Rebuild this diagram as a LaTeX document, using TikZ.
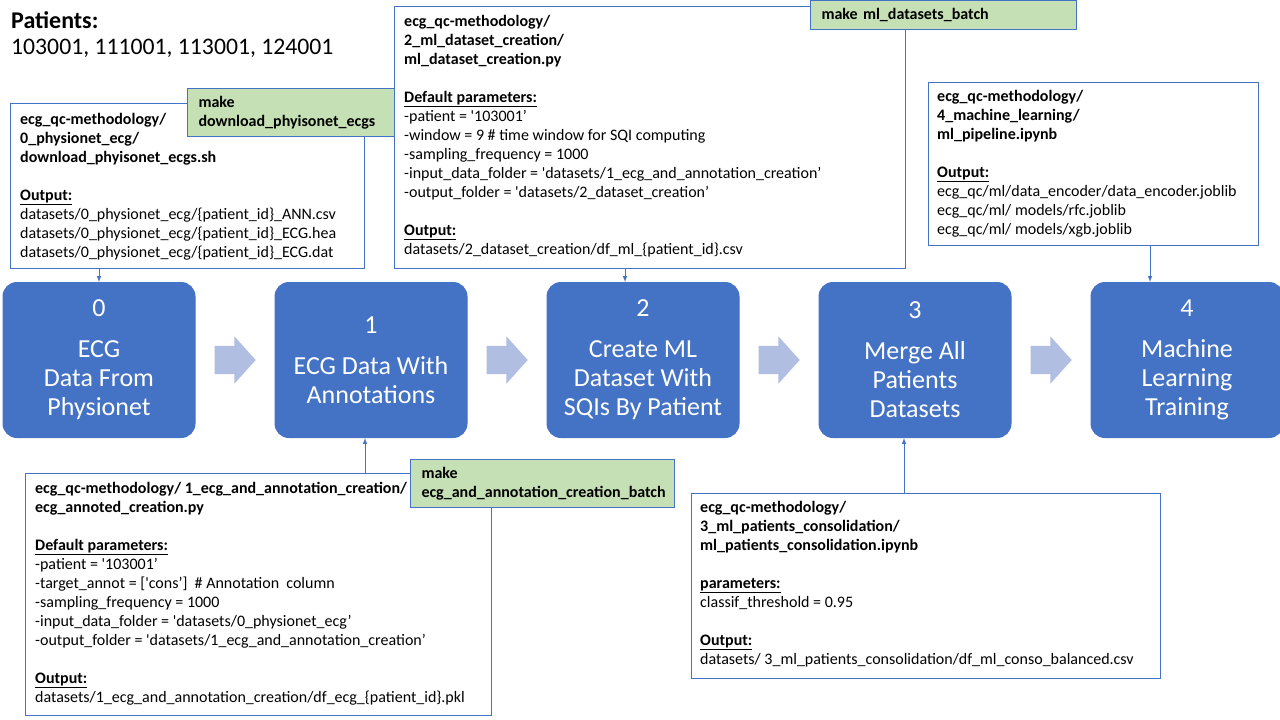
\documentclass[tikz,border=0pt]{standalone}
\usepackage{fontspec}
\setmainfont{Carlito}
\usetikzlibrary{positioning,shapes.arrows,calc}
\definecolor{stageblue}{RGB}{68,114,196}
\definecolor{makegreen}{RGB}{197,224,180}
\definecolor{flowblue}{RGB}{176,190,226}
\newcommand{\smalltext}{\fontsize{16}{19}\selectfont}
\newcommand{\bigtext}{\fontsize{26}{29}\selectfont}
\newcommand{\gapline}{\\[19pt]}
\newcommand{\hdr}[1]{\textbf{\underline{#1}}}
\tikzset{
  stage/.style={draw=stageblue, fill=stageblue, rounded corners=14pt, minimum width=192pt,
    minimum height=155pt, text=white, align=center, font=\bigtext, line width=1pt},
  flow/.style={single arrow, fill=flowblue, draw=none, minimum height=41pt, anchor=tail,
    single arrow head extend=9.5pt, single arrow tip angle=96, inner xsep=0pt, inner ysep=14pt},
  script/.style={draw=stageblue, fill=white, line width=1pt, anchor=north west, inner sep=0pt},
  scripttext/.style={anchor=north west, inner sep=0pt, align=left, font=\smalltext},
  makebox/.style={draw=stageblue, fill=makegreen, line width=1pt, anchor=north west, align=left,
    font=\smalltext\bfseries, inner xsep=11pt, inner ysep=0pt},
  link/.style={->, >=latex, draw=stageblue, line width=1pt}
}
\begin{document}
\begin{tikzpicture}[x=1pt,y=-1pt]
\useasboundingbox (0,0) rectangle (1280,720);
% patients
\node[anchor=west, inner sep=0pt, font=\fontsize{24}{29}\selectfont\bfseries] (pat) at (11,20) {Patients:};
\node[anchor=west, inner sep=0pt, font=\fontsize{23.7}{29}\selectfont] (patlist) at (11,48) {103001, 111001, 113001, 124001};
% stages
\node[stage] (s0) at (99,360) {0\\[12pt]ECG\\Data From\\Physionet};
\node[stage, right=79pt of s0] (s1) {1\\[12pt]ECG Data With\\Annotations};
\node[stage, right=79pt of s1] (s2) {2\\[12pt]Create ML\\Dataset With\\SQIs By Patient};
\node[stage, right=79pt of s2] (s3) {3\\[12pt]Merge All\\Patients\\Datasets};
\node[stage, right=79pt of s3] (s4) {4\\[12pt]Machine\\Learning\\Training};
\node[flow] (f01) at ([xshift=19pt]s0.east) {};
\node[flow] (f12) at ([xshift=19pt]s1.east) {};
\node[flow] (f23) at ([xshift=19pt]s2.east) {};
\node[flow] (f34) at ([xshift=19pt]s3.east) {};
% scripts
\node[script, minimum width=354pt, minimum height=165pt] (srcA) at (10,103) {};
\node[scripttext] (srcAtext) at ([shift={(10pt,-10pt)}]srcA.north west) {%
\textbf{ecg\_qc-methodology/}\\
\textbf{0\_physionet\_ecg/}\\
\textbf{download\_phyisonet\_ecgs.sh}\gapline
\hdr{Output:}\\
datasets/0\_physionet\_ecg/\{patient\_id\}\_ANN.csv\\
datasets/0\_physionet\_ecg/\{patient\_id\}\_ECG.hea\\
datasets/0\_physionet\_ecg/\{patient\_id\}\_ECG.dat};
\node[makebox, minimum width=207pt, minimum height=48pt, text width=185pt] (mkA) at (187,88) {make\\download\_phyisonet\_ecgs};
\node[script, minimum width=511pt, minimum height=262pt] (srcB) at (394,6) {};
\node[scripttext] (srcBtext) at ([shift={(10pt,-9pt)}]srcB.north west) {%
\textbf{ecg\_qc-methodology/}\\
\textbf{2\_ml\_dataset\_creation/}\\
\textbf{ml\_dataset\_creation.py}\gapline
\hdr{Default parameters:}\\
-patient = \textquotesingle103001'\\
-window = 9 \# time window for SQI computing\\
-sampling\_frequency = 1000\\
-input\_data\_folder = \textquotesingle datasets/1\_ecg\_and\_annotation\_creation'\\
-output\_folder = \textquotesingle datasets/2\_dataset\_creation'\gapline
\hdr{Output:}\\
datasets/2\_dataset\_creation/df\_ml\_\{patient\_id\}.csv};
\node[makebox, minimum width=266pt, minimum height=29pt, text width=244pt] (mkB) at (810,0) {make ml\_datasets\_batch};
\node[script, minimum width=330pt, minimum height=163pt] (srcC) at (928,82) {};
\node[scripttext] (srcCtext) at ([shift={(9pt,-8pt)}]srcC.north west) {%
\textbf{ecg\_qc-methodology/}\\
\textbf{4\_machine\_learning/}\\
\textbf{ml\_pipeline.ipynb}\gapline
\hdr{Output:}\\
ecg\_qc/ml/data\_encoder/data\_encoder.joblib\\
ecg\_qc/ml/ models/rfc.joblib\\
ecg\_qc/ml/ models/xgb.joblib};
\node[script, minimum width=466pt, minimum height=242pt] (srcD) at (25,473) {};
\node[scripttext] (srcDtext) at ([shift={(10pt,-9pt)}]srcD.north west) {%
\textbf{ecg\_qc-methodology/ 1\_ecg\_and\_annotation\_creation/}\\
\textbf{ecg\_annoted\_creation.py}\gapline
\hdr{Default parameters:}\\
-patient = \textquotesingle103001'\\
-target\_annot = [\textquotesingle cons']\ \ \# Annotation\ \ column\\
-sampling\_frequency = 1000\\
-input\_data\_folder = \textquotesingle datasets/0\_physionet\_ecg'\\
-output\_folder = \textquotesingle datasets/1\_ecg\_and\_annotation\_creation'\gapline
\hdr{Output:}\\
datasets/1\_ecg\_and\_annotation\_creation/df\_ecg\_\{patient\_id\}.pkl};
\node[makebox, minimum width=264pt, minimum height=48pt, text width=242pt] (mkD) at (410,459) {make\\ecg\_and\_annotation\_creation\_batch};
\node[script, minimum width=469pt, minimum height=185pt] (srcE) at (691,493) {};
\node[scripttext] (srcEtext) at ([shift={(9pt,-8pt)}]srcE.north west) {%
\textbf{ecg\_qc-methodology/}\\
\textbf{3\_ml\_patients\_consolidation/}\\
\textbf{ml\_patients\_consolidation.ipynb}\gapline
\hdr{parameters:}\\
classif\_threshold = 0.95\gapline
\hdr{Output:}\\
datasets/ 3\_ml\_patients\_consolidation/df\_ml\_conso\_balanced.csv};
% links
\draw[link] (s0.north |- srcA.south) -- (s0.north);
\draw[link] ([xshift=-18pt]s2.north |- srcB.south) -- ([xshift=-18pt]s2.north);
\draw[link] ([xshift=-37pt]s4.north |- srcC.south) -- ([xshift=-37pt]s4.north);
\draw[link] ([xshift=-6pt]s1.south |- srcD.north) -- ([xshift=-6pt]s1.south);
\draw[link] ([xshift=-11pt]s3.south |- srcE.north) -- ([xshift=-11pt]s3.south);
\end{tikzpicture}
\end{document}
